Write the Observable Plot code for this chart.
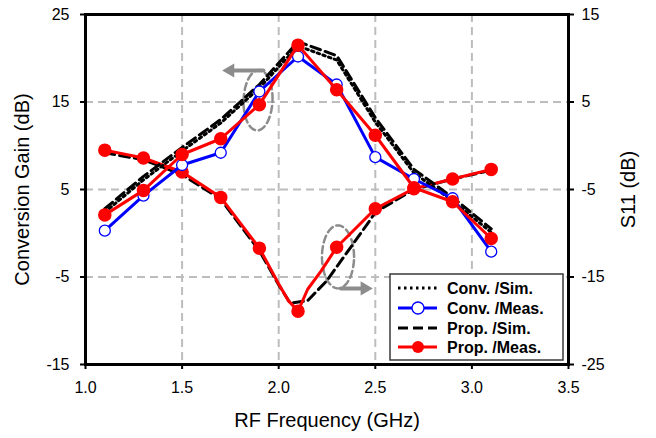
<!DOCTYPE html>
<html>
<head>
<meta charset="utf-8">
<script src="https://cdn.jsdelivr.net/npm/d3@7"></script>
<script src="https://cdn.jsdelivr.net/npm/@observablehq/plot@0.6"></script>
<style>
  html, body { margin: 0; padding: 0; background: white; }
  #chart { position: relative; width: 656px; height: 438px; }
</style>
</head>
<body>
<div id="chart"></div>
<script>
// ---- data ----
const freq = [1.1, 1.3, 1.5, 1.7, 1.9, 2.1, 2.3, 2.5, 2.7, 2.9, 3.1];
const convSimGain  = [2.4, 6.1, 9.4, 12.6, 16.6, 21.4, 19.8, 12.7, 6.9, 3.7, 0.1];
const convMeasGain = [0.3, 4.3, 7.8, 9.2, 16.2, 20.2, 17.0, 8.7, 6.2, 4.0, -2.1];
const propSimGain  = [2.8, 6.5, 9.8, 13.0, 17.0, 21.9, 20.3, 13.2, 7.3, 4.1, 0.5];
const propMeasGain = [2.1, 4.9, 9.0, 10.8, 14.7, 21.5, 16.4, 11.2, 5.2, 3.6, -0.6];

// S11 (right axis, dB)
const propMeasS11 = [-0.5, -1.4, -3.0, -5.9, -11.7, -18.9, -11.6, -7.2, -4.9, -3.8, -2.7];
const propMeasS11LineFreq = [1.1, 1.3, 1.5, 1.7, 1.9, 2.0, 2.05, 2.1, 2.15, 2.22, 2.3, 2.5, 2.7, 2.9, 3.1];
const propMeasS11Line     = [-0.5, -1.4, -3.0, -5.9, -11.7, -15.8, -17.7, -18.9, -16.4, -14.3, -11.6, -7.2, -4.9, -3.8, -2.7];
const propSimS11Freq = [1.1, 1.3, 1.5, 1.7, 1.9, 2.0, 2.06, 2.15, 2.25, 2.35, 2.47, 2.5, 2.7, 2.9, 3.1];
const propSimS11     = [-0.8, -1.6, -3.3, -6.1, -12.0, -15.9, -18.0, -17.7, -15.4, -12.3, -8.6, -7.6, -5.0, -3.8, -2.8];

// ticks
const xTicks = [1.0, 1.5, 2.0, 2.5, 3.0, 3.5];
const leftTicks = [-15, -5, 5, 15, 25];
const rightTicks = [-25, -15, -5, 5, 15];
const s11Offset = leftTicks[0] - rightTicks[0]; // right axis value + 10 = left axis value

// annotations (data coordinates)
const ellipses = [
  {cx: 1.893, cy: 15.2, rx: 0.075, ry: 3.45, tilt: 0.06},
  {cx: 2.307, cy: -2.7, rx: 0.083, ry: 3.6, tilt: 0.0}
];
const arrowShafts = [
  {x1: 1.921, x2: 1.755, y: 18.6},
  {x1: 2.322, x2: 2.44, y: -6.3}
];
const arrowHeads = [
  {x: 1.749, y: 18.6, rotate: -90},
  {x: 2.445, y: -6.3, rotate: 90}
];

const legendItems = ["Conv. /Sim.", "Conv. /Meas.", "Prop. /Sim.", "Prop. /Meas."];

// ---- build ----
const idx = d3.range(freq.length);
const ellipsePts = ellipses.flatMap((e, k) =>
  d3.range(0, 73).map(j => {
    const t = j / 72 * 2 * Math.PI;
    const ux = Math.cos(t), uy = Math.sin(t);
    return {k, x: e.cx + e.rx * ux + e.tilt * e.rx * uy, y: e.cy + e.ry * uy};
  })
);
const shaftPts = arrowShafts.flatMap((a, k) => [{k, x: a.x1, y: a.y}, {k, x: a.x2, y: a.y}]);

const gridStyle = {stroke: "#bdbdbd", strokeOpacity: 1, strokeWidth: 2, strokeDasharray: "8,5"};
const fmt1 = d => d.toFixed(1);

const chart = Plot.plot({
  width: 656,
  height: 438,
  marginLeft: 85,
  marginRight: 88,
  marginTop: 14,
  marginBottom: 74,
  x: {domain: [1, 3.5]},
  y: {domain: [-15, 25]},
  style: {fontFamily: "'Liberation Sans', Arial, sans-serif", background: "white", color: "black", overflow: "visible"},
  marks: [
    Plot.gridX(xTicks.slice(1, -1), gridStyle),
    Plot.gridY(leftTicks.slice(1, -1), gridStyle),
    // annotations
    Plot.line(ellipsePts, {x: "x", y: "y", z: "k", stroke: "#8c8c8c", strokeWidth: 2.5, strokeDasharray: "7,4"}),
    Plot.line(shaftPts, {x: "x", y: "y", z: "k", stroke: "#8c8c8c", strokeWidth: 4}),
    Plot.dot(arrowHeads, {x: "x", y: "y", symbol: "triangle", r: 5.2, fill: "#8c8c8c", stroke: "none", rotate: "rotate"}),
    // S11 curves
    Plot.line(propSimS11Freq, {x: d => d, y: (d, i) => propSimS11[i] + s11Offset, stroke: "black", strokeWidth: 3, strokeDasharray: "10,5"}),
    Plot.line(propMeasS11LineFreq, {x: d => d, y: (d, i) => propMeasS11Line[i] + s11Offset, stroke: "#ff0000", strokeWidth: 3}),
    Plot.dot(idx, {x: i => freq[i], y: i => propMeasS11[i] + s11Offset, r: 6, fill: "#ff0000", stroke: "#ff0000"}),
    // gain curves
    Plot.line(idx, {x: i => freq[i], y: i => convSimGain[i], stroke: "black", strokeWidth: 3, strokeDasharray: "2.5,3.5"}),
    Plot.line(idx, {x: i => freq[i], y: i => propSimGain[i], stroke: "black", strokeWidth: 3, strokeDasharray: "10,5"}),
    Plot.line(idx, {x: i => freq[i], y: i => convMeasGain[i], stroke: "#0000ff", strokeWidth: 3}),
    Plot.dot(idx, {x: i => freq[i], y: i => convMeasGain[i], r: 5.5, fill: "white", stroke: "#0000ff", strokeWidth: 1.3}),
    Plot.line(idx, {x: i => freq[i], y: i => propMeasGain[i], stroke: "#ff0000", strokeWidth: 3}),
    Plot.dot(idx, {x: i => freq[i], y: i => propMeasGain[i], r: 6, fill: "#ff0000", stroke: "#ff0000"}),
    // axes
    Plot.axisX(xTicks, {tickSize: 5, tickPadding: 12, fontSize: 16, tickFormat: fmt1, label: null, strokeWidth: 2}),
    Plot.axisY(leftTicks, {anchor: "left", tickSize: 5, tickPadding: 11, fontSize: 16, tickFormat: d => String(d), label: null, strokeWidth: 2}),
    Plot.axisY(rightTicks.map(v => v + s11Offset), {anchor: "right", tickSize: 5, tickPadding: 8, fontSize: 16, tickFormat: d => String(d - s11Offset), label: null, strokeWidth: 2}),
    Plot.frame({stroke: "black", strokeWidth: 3}),
    // axis titles
    Plot.text(["Conversion Gain (dB)"], {text: d => d, frameAnchor: "left", dx: -63, rotate: -90, fontSize: 20, lineAnchor: "middle", textAnchor: "middle"}),
    Plot.text(["S11 (dB)"], {text: d => d, frameAnchor: "right", dx: 60, rotate: -90, fontSize: 20, lineAnchor: "middle", textAnchor: "middle"}),
    Plot.text(["RF Frequency (GHz)"], {text: d => d, frameAnchor: "bottom", dy: 56, fontSize: 20, lineAnchor: "middle", textAnchor: "middle"})
  ]
});

document.getElementById("chart").appendChild(chart);

// ---- legend (inside plot area, lower right) ----
const svg = d3.select(chart);
const lg = svg.append("g").attr("transform", "translate(390,274)").attr("text-anchor", "start");
lg.append("rect").attr("x", 0).attr("y", 0).attr("width", 173).attr("height", 86)
  .attr("fill", "white").attr("stroke", "#3a3a3a").attr("stroke-width", 1.5);
const rowY = [14, 34, 54, 73];
const styles = [
  {stroke: "black", dash: "2.5,3.5", marker: null},
  {stroke: "#0000ff", dash: null, marker: "open"},
  {stroke: "black", dash: "10,5", marker: null},
  {stroke: "#ff0000", dash: null, marker: "filled"}
];
legendItems.forEach((label, i) => {
  const s = styles[i];
  const y = rowY[i];
  const ln = lg.append("line").attr("x1", 8).attr("x2", 47).attr("y1", y).attr("y2", y)
    .attr("stroke", s.stroke).attr("stroke-width", 3);
  if (s.dash) ln.attr("stroke-dasharray", s.dash);
  if (s.marker === "open") {
    lg.append("circle").attr("cx", 28).attr("cy", y).attr("r", 6).attr("fill", "white").attr("stroke", "#0000ff").attr("stroke-width", 1.3);
  } else if (s.marker === "filled") {
    lg.append("circle").attr("cx", 28).attr("cy", y).attr("r", 6).attr("fill", "#ff0000");
  }
  lg.append("text").attr("x", 57).attr("y", y).attr("dy", "0.36em")
    .attr("text-anchor", "start")
    .attr("font-size", 16).attr("font-weight", "bold").attr("fill", "black")
    .attr("font-family", "'Liberation Sans', Arial, sans-serif")
    .text(label);
});
</script>
</body>
</html>
